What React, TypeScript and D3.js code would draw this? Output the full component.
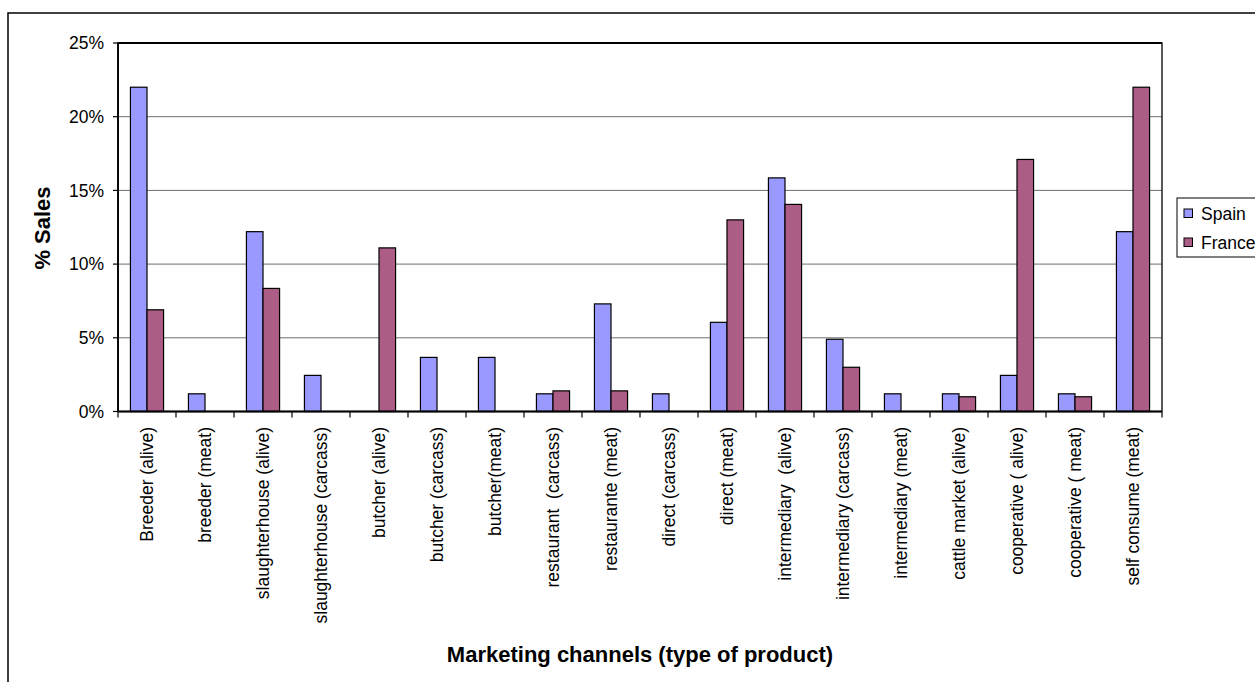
import React from "react";
import * as d3 from "d3";

const categories = [
  "Breeder (alive)",
  "breeder (meat)",
  "slaughterhouse (alive)",
  "slaughterhouse (carcass)",
  "butcher (alive)",
  "butcher (carcass)",
  "butcher(meat)",
  "restaurant  (carcass)",
  "restaurante (meat)",
  "direct (carcass)",
  "direct (meat)",
  "intermediary  (alive)",
  "intermediary (carcass)",
  "intermediary (meat)",
  "cattle market (alive)",
  "cooperative ( alive)",
  "cooperative ( meat)",
  "self consume (meat)",
];

const spain = [22.0, 1.2, 12.2, 2.45, 0, 3.67, 3.67, 1.2, 7.3, 1.2, 6.05, 15.85, 4.9, 1.2, 1.2, 2.45, 1.2, 12.2];
const france = [6.9, 0, 8.35, 0, 11.1, 0, 0, 1.4, 1.4, 0, 13.0, 14.05, 3.0, 0, 1.0, 17.1, 1.0, 22.0];

const seriesNames = ["Spain", "France"];
const seriesColors = ["#9999ff", "#ab5d85"];
const yTicks = [0, 5, 10, 15, 20, 25];

const W = 1255;
const H = 682;
const plot = { left: 118, right: 1162, top: 43, bottom: 411.5 };
const FONT = "'Liberation Sans', Arial, sans-serif";

export default function App() {
  const x = d3
    .scaleBand<string>()
    .domain(categories)
    .range([plot.left, plot.right])
    .paddingInner(0)
    .paddingOuter(0);
  const bw = x.bandwidth();
  const barW = bw / 3.5;
  const inner = d3
    .scaleBand<string>()
    .domain(seriesNames)
    .range([(bw - 2 * barW) / 2, (bw + 2 * barW) / 2]);
  const y = d3.scaleLinear().domain([0, 25]).range([plot.bottom, plot.top]);
  const data = [spain, france];

  return (
    <div style={{ position: "absolute", left: 0, top: 0 }}>
      <svg width={W} height={H} style={{ display: "block", fontFamily: FONT }}>
        <rect x={0} y={0} width={W} height={H} fill="#fff" />
        {/* outer chart border */}
        <rect x={8} y={13} width={1400} height={1000} fill="none" stroke="#000" strokeWidth={1.5} />

        {/* gridlines */}
        {yTicks
          .filter((t) => t > 0 && t < 25)
          .map((t) => (
            <line key={"g" + t} x1={plot.left} x2={plot.right} y1={y(t)} y2={y(t)} stroke="#6e6e6e" strokeWidth={1} />
          ))}

        {/* bars */}
        {data.map((vals, si) =>
          vals.map((v, i) =>
            v > 0 ? (
              <rect
                key={si + "-" + i}
                x={(x(categories[i]) as number) + (inner(seriesNames[si]) as number)}
                y={y(v)}
                width={barW}
                height={y(0) - y(v)}
                fill={seriesColors[si]}
                stroke="#000"
                strokeWidth={1.2}
              />
            ) : null
          )
        )}

        {/* plot border */}
        <rect
          x={plot.left}
          y={plot.top}
          width={plot.right - plot.left}
          height={plot.bottom - plot.top}
          fill="none"
          stroke="#000"
          strokeWidth={1.3}
        />
        <line x1={plot.left} x2={plot.right} y1={plot.top} y2={plot.top} stroke="#000" strokeWidth={2} />
        <line x1={plot.left} x2={plot.right} y1={plot.bottom} y2={plot.bottom} stroke="#000" strokeWidth={2} />
        <line x1={plot.left} x2={plot.left} y1={plot.top} y2={plot.bottom} stroke="#000" strokeWidth={1.8} />

        {/* y ticks & labels */}
        {yTicks.map((t) => (
          <g key={"yt" + t}>
            <line x1={plot.left - 5} x2={plot.left} y1={y(t)} y2={y(t)} stroke="#000" strokeWidth={1.2} />
            <text x={104} y={y(t)} dy="0.35em" textAnchor="end" fontSize={17.5} fill="#000">
              {t + "%"}
            </text>
          </g>
        ))}

        {/* x ticks */}
        {categories.concat([""]).map((c, i) => {
          const xx = plot.left + i * bw;
          return <line key={"xt" + i} x1={xx} x2={xx} y1={plot.bottom} y2={plot.bottom + 6} stroke="#000" strokeWidth={1.2} />;
        })}

        {/* category labels */}
        {categories.map((c) => {
          const cx = (x(c) as number) + bw / 2;
          return (
            <text
              key={"cl" + c}
              transform={`translate(${cx},427) rotate(-90)`}
              dy="0.35em"
              textAnchor="end"
              fontSize={17.5}
              fill="#000"
              style={{ whiteSpace: "pre" }}
            >
              {c}
            </text>
          );
        })}

        {/* axis titles */}
        <text x={640} y={662} textAnchor="middle" fontSize={22} fontWeight="bold" fill="#000">
          Marketing channels (type of product)
        </text>
        <text transform="translate(50,228) rotate(-90)" textAnchor="middle" fontSize={22} fontWeight="bold" fill="#000">
          % Sales
        </text>

        {/* legend */}
        <rect x={1177} y={198} width={200} height={59} fill="#fff" stroke="#000" strokeWidth={1} />
        {seriesNames.map((s, i) => (
          <g key={"lg" + s}>
            <rect x={1184} y={209 + i * 29} width={8.5} height={8.5} fill={seriesColors[i]} stroke="#000" strokeWidth={1} />
            <text x={1201} y={213.5 + i * 29} dy="0.35em" fontSize={17.5} fill="#000">
              {s}
            </text>
          </g>
        ))}
      </svg>
    </div>
  );
}
